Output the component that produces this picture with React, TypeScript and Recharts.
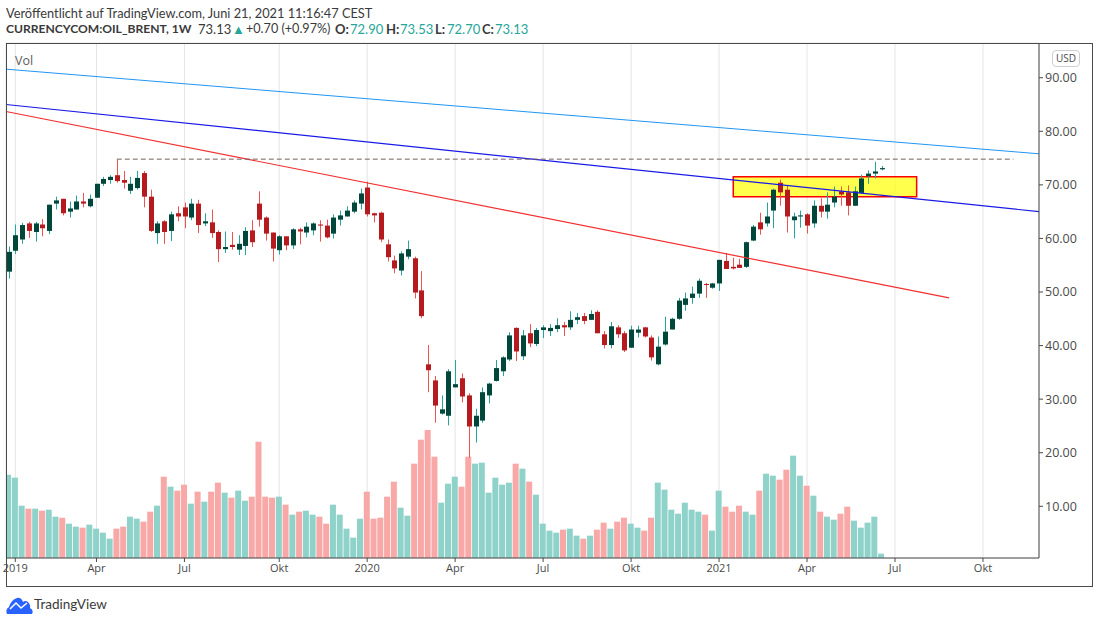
import {
  Bar,
  CartesianGrid,
  Cell,
  ComposedChart,
  ReferenceArea,
  ReferenceLine,
  XAxis,
  YAxis,
} from "recharts";

// weekly OHLC, first visible bar is the last week of 2018
const opens = [
  53.8, 57.7, 59.8, 62.8, 61.2, 62.6, 61.4, 66.5, 67.4, 65.0, 65.4, 66.9, 66.0, 67.6, 70.2, 70.9, 71.8, 70.9, 68.9, 69.4,
  72.2, 67.8, 61.0, 63.2, 61.4, 64.7, 65.8, 63.9, 66.5, 62.8, 63.0, 61.2, 58.0, 58.8, 57.9, 58.6, 61.5, 66.5, 63.9, 61.1,
  57.8, 60.4, 58.7, 61.7, 61.1, 61.5, 62.6, 62.4, 60.9, 63.5, 64.1, 65.0, 66.5, 69.5, 64.7, 64.8, 58.9, 55.9, 54.0, 56.6,
  56.3, 50.3, 36.5, 33.5, 27.3, 26.9, 32.2, 33.9, 30.7, 24.9, 26.0, 30.7, 33.4, 35.2, 37.4, 43.3, 38.0, 42.3, 40.3, 42.9,
  42.7, 43.1, 43.8, 43.4, 44.8, 45.5, 44.8, 46.3, 42.1, 40.1, 43.4, 42.3, 39.6, 42.4, 43.4, 41.5, 36.5, 40.2, 43.0, 45.0,
  47.6, 48.9, 49.7, 51.5, 50.8, 51.6, 55.8, 54.7, 55.1, 54.7, 59.6, 63.0, 62.8, 65.2, 70.4, 69.1, 63.4, 64.1, 64.5, 62.8,
  66.1, 65.0, 66.7, 68.8, 68.6, 66.1, 68.5, 71.6, 72.1, 72.9,
];
const highs = [
  58.5, 62.6, 62.9, 63.1, 63.1, 63.6, 66.3, 67.8, 67.4, 66.9, 68.0, 68.5, 68.2, 70.2, 71.5, 71.8, 74.7, 72.6, 71.5, 72.6,
  72.6, 69.1, 63.2, 63.4, 65.0, 66.0, 66.7, 67.4, 67.2, 64.7, 65.4, 61.5, 61.3, 61.2, 60.6, 62.1, 63.4, 68.8, 64.1, 61.1,
  60.6, 60.4, 61.9, 62.0, 63.0, 63.0, 63.4, 63.5, 64.5, 65.2, 66.0, 67.1, 69.3, 70.6, 64.8, 65.0, 59.8, 56.8, 57.6, 59.6,
  56.6, 53.9, 40.1, 34.3, 30.7, 35.6, 37.3, 34.8, 31.1, 28.2, 32.2, 33.1, 37.3, 38.0, 42.5, 43.4, 42.9, 44.0, 43.3, 43.8,
  44.0, 45.1, 44.4, 46.4, 46.1, 46.1, 46.6, 46.6, 42.7, 44.4, 43.8, 42.7, 43.7, 43.7, 43.5, 41.9, 41.7, 45.4, 45.2, 48.9,
  49.9, 51.0, 52.5, 51.7, 51.7, 56.0, 57.3, 56.4, 56.2, 59.4, 62.5, 64.8, 66.7, 69.3, 71.0, 69.9, 64.8, 65.2, 64.7, 67.1,
  67.5, 68.6, 69.7, 69.7, 69.9, 69.7, 71.9, 72.7, 74.3, 73.53,
];
const lows = [
  52.5, 57.1, 59.0, 60.1, 59.4, 60.4, 60.8, 65.4, 64.3, 63.9, 65.4, 65.8, 65.8, 67.6, 69.8, 70.2, 70.4, 69.3, 68.3, 69.1,
  65.8, 61.2, 59.0, 59.0, 59.5, 63.2, 61.9, 63.4, 61.0, 62.3, 60.1, 55.6, 57.3, 57.9, 56.9, 56.9, 58.4, 62.2, 59.6, 55.7,
  57.0, 57.8, 58.0, 58.9, 60.2, 60.6, 59.4, 60.0, 60.0, 62.4, 64.1, 64.7, 65.4, 64.1, 63.0, 59.3, 55.7, 53.5, 53.1, 56.1,
  48.8, 45.1, 31.3, 25.6, 27.1, 25.1, 32.2, 29.4, 19.1, 21.9, 25.6, 29.2, 33.3, 34.3, 37.1, 37.1, 37.3, 39.7, 39.9, 41.4,
  41.8, 42.5, 41.8, 42.9, 44.0, 44.0, 44.8, 42.3, 39.5, 39.5, 41.4, 38.8, 39.6, 41.5, 41.5, 37.2, 36.3, 40.0, 43.0, 44.8,
  46.5, 47.8, 48.9, 48.9, 50.6, 50.2, 54.3, 54.2, 54.5, 54.5, 59.5, 60.7, 62.2, 61.9, 66.1, 61.1, 60.0, 62.0, 60.9, 62.0,
  63.9, 63.7, 65.8, 66.1, 64.3, 66.1, 68.5, 70.2, 71.2, 72.7,
];
const closes = [
  57.5, 60.6, 62.5, 61.4, 62.8, 61.9, 66.3, 67.1, 64.7, 65.6, 66.9, 66.5, 67.4, 70.2, 71.1, 71.5, 70.7, 70.4, 70.2, 71.3,
  67.8, 61.4, 62.8, 61.2, 64.5, 64.1, 64.1, 66.5, 62.5, 63.2, 61.0, 58.0, 58.4, 58.4, 59.0, 61.4, 59.3, 63.5, 60.9, 58.1,
  60.4, 58.7, 61.7, 61.3, 62.2, 62.8, 62.4, 60.2, 63.9, 64.3, 65.2, 66.7, 68.4, 64.5, 64.3, 59.8, 56.5, 54.4, 57.2, 58.0,
  49.9, 45.5, 35.4, 28.8, 28.1, 35.2, 32.8, 30.5, 24.9, 26.9, 31.3, 32.9, 35.8, 37.8, 41.9, 38.9, 41.9, 40.4, 42.9, 43.4,
  43.3, 43.8, 43.4, 44.8, 45.3, 44.6, 45.9, 42.3, 40.1, 43.6, 42.1, 39.1, 43.0, 43.0, 41.7, 37.8, 39.8, 42.6, 45.0, 48.4,
  48.8, 49.7, 52.1, 51.4, 51.6, 56.0, 54.3, 54.4, 54.5, 59.3, 62.2, 61.7, 64.1, 69.1, 68.6, 64.1, 64.1, 64.3, 62.4, 66.1,
  65.0, 66.3, 67.8, 68.2, 66.1, 68.8, 71.2, 72.1, 72.5, 73.13,
];
const volumes = [
  250, 241, 157, 148, 148, 142, 145, 124, 121, 103, 94, 91, 100, 88, 76, 58, 88, 94, 124, 118,
  109, 139, 157, 244, 214, 202, 220, 163, 199, 169, 199, 226, 196, 181, 202, 172, 184, 349, 184, 181,
  184, 160, 130, 139, 142, 130, 124, 103, 160, 130, 88, 61, 118, 199, 118, 121, 184, 229, 151, 127,
  283, 355, 384, 304, 166, 223, 244, 214, 304, 283, 286, 196, 241, 220, 226, 283, 268, 229, 190, 103,
  82, 76, 85, 88, 67, 58, 67, 85, 106, 88, 109, 121, 103, 91, 82, 121, 226, 205, 145, 133,
  166, 145, 139, 130, 82, 202, 154, 139, 157, 139, 130, 202, 253, 247, 235, 265, 307, 247, 217, 187,
  139, 124, 115, 133, 154, 112, 91, 106, 124, 13,
];

const monthTicks = [1, 13, 26, 40, 53, 66, 79, 92, 105, 118, 131, 144];
const monthLabels = ["2019", "Apr", "Jul", "Okt", "2020", "Apr", "Jul", "Okt", "2021", "Apr", "Jul", "Okt"];
const priceTicks = [10, 20, 30, 40, 50, 60, 70, 80, 90];

const lightBlueLine = [{ x: -0.37, y: 91.6 }, { x: 152.28, y: 75.8 }];
const blueLine = [{ x: -0.37, y: 85.0 }, { x: 152.28, y: 65.0 }];
const redLine = [{ x: -0.37, y: 83.7 }, { x: 139, y: 48.9 }];
const resistanceLine = [{ x: 16, y: 74.8 }, { x: 148.5, y: 74.8 }];
const zone = { x1: 107.1, x2: 134.2, y1: 67.8, y2: 71.5 };

const X_DOMAIN = [-0.37, 152.28];
const UP = "#00473b";
const DOWN = "#b51a1f";
const UP_WICK = "#26a69a";
const DOWN_WICK = "#ef5350";
const AXIS = "#4a4a4a";
const FONT = "'Open Sans', sans-serif";
const HEAD_FONT = "Lato, sans-serif";

const rows = opens.map((open, i) => ({
  i,
  open,
  close: closes[i],
  range: [lows[i], highs[i]],
  volume: volumes[i],
}));

function Candle(props: any) {
  const { x, y, width, height, payload } = props;
  const [low, high] = payload.range;
  const perUnit = height / (high - low);
  const up = payload.close >= payload.open;
  const top = y + (high - Math.max(payload.open, payload.close)) * perUnit;
  const bodyHeight = Math.max(1, Math.abs(payload.close - payload.open) * perUnit);
  // snap to the pixel grid so wicks stay 1px wide
  const cx = Math.round(x + width / 2) + 0.5;
  return (
    <g>
      <line x1={cx} x2={cx} y1={y} y2={y + height} stroke={up ? UP_WICK : DOWN_WICK} strokeWidth={1} />
      <rect x={cx - width / 2} y={top} width={width} height={bodyHeight} fill={up ? UP : DOWN} />
    </g>
  );
}

function Logo() {
  return (
    <svg width={27} height={17} viewBox="0 0 27 17" style={{ position: "absolute", left: 6, top: 597 }}>
      <path
        d="M1 17 Q-1 12 3 10 Q5 3 11 1 Q15 0 17 5 Q19 3 22 5 Q25 8 24 11 Q28 13 26 17 Z"
        fill="#2962ff"
      />
      <path d="M4 12 L10 6 L15 11 L21 6" fill="none" stroke="#fff" strokeWidth={1.5} />
    </svg>
  );
}

// one piece of the ohlc header line
function Head({ left, color, bold, size, children }: any) {
  return (
    <span
      style={{
        position: "absolute",
        left,
        top: 21,
        fontFamily: HEAD_FONT,
        fontSize: size ?? 13,
        lineHeight: "16px",
        fontWeight: bold ? 700 : 400,
        color,
        whiteSpace: "nowrap",
      }}
    >
      {children}
    </span>
  );
}

export default function App() {
  const green = "#26a69a";
  return (
    <div style={{ position: "absolute", left: 0, top: 0, width: 1100, height: 623, background: "#fff", fontFamily: FONT, color: "#3a3a3a", overflow: "hidden" }}>
      <div style={{ position: "absolute", left: 6, top: 5, fontFamily: HEAD_FONT, fontSize: 12.8, lineHeight: "16px", whiteSpace: "nowrap" }}>
        Veröffentlicht auf TradingView.com, Juni 21, 2021 11:16:47 CEST
      </div>
      <Head left={6} bold size={12.1}>CURRENCYCOM:OIL_BRENT, 1W</Head>
      <Head left={198}>73.13</Head>
      <Head left={232} color={green}>▲</Head>
      <Head left={246} size={12.6}>+0.70 (+0.97%)</Head>
      <Head left={335} bold>O:</Head>
      <Head left={350} color={green}>72.90</Head>
      <Head left={386} bold>H:</Head>
      <Head left={400} color={green}>73.53</Head>
      <Head left={435} bold>L:</Head>
      <Head left={447} color={green}>72.70</Head>
      <Head left={482} bold>C:</Head>
      <Head left={495} color={green}>73.13</Head>

      <ComposedChart
        width={1100}
        height={623}
        data={rows}
        margin={{ top: 43, right: 8, bottom: 37, left: 6 }}
        style={{ position: "absolute", left: 0, top: 0 }}
      >
        <CartesianGrid stroke="#e4e4e4" strokeWidth={1} />
        <XAxis
          dataKey="i"
          type="number"
          domain={X_DOMAIN}
          allowDataOverflow
          ticks={monthTicks}
          interval={0}
          tickFormatter={(v: number) => monthLabels[monthTicks.indexOf(v)]}
          height={28}
          stroke={AXIS}
          tickSize={4}
          tick={{ fontSize: 11, fill: "#4a4a4a", fontFamily: FONT }}
        />
        {/* second x axis so volume and candles don't share a slot */}
        <XAxis xAxisId="vol" dataKey="i" type="number" domain={X_DOMAIN} allowDataOverflow hide />
        <YAxis
          yAxisId="price"
          orientation="right"
          domain={[0.35, 96.48]}
          allowDataOverflow
          ticks={priceTicks}
          interval={0}
          tickFormatter={(v: number) => v.toFixed(2)}
          width={53}
          stroke={AXIS}
          tickSize={4}
          tick={{ fontSize: 12.5, fill: "#4a4a4a", fontFamily: FONT }}
        />
        <YAxis yAxisId="volume" hide domain={[0, 1545]} allowDataOverflow />

        <Bar xAxisId="vol" yAxisId="volume" dataKey="volume" barSize={6} isAnimationActive={false}>
          {rows.map((row) => (
            <Cell key={row.i} fill={row.close >= row.open ? "#8fd2ca" : "#f8a8a6"} />
          ))}
        </Bar>

        <ReferenceArea
          yAxisId="price"
          x1={zone.x1}
          x2={zone.x2}
          y1={zone.y1}
          y2={zone.y2}
          fill="#ffff00"
          fillOpacity={0.7}
          stroke="#ff0000"
          strokeWidth={1.5}
        />
        <Bar yAxisId="price" dataKey="range" barSize={5} shape={Candle} isAnimationActive={false} />

        <ReferenceLine yAxisId="price" segment={lightBlueLine} stroke="#2196f3" strokeWidth={1} />
        <ReferenceLine yAxisId="price" segment={blueLine} stroke="#1a1ae6" strokeWidth={1.2} />
        <ReferenceLine yAxisId="price" segment={redLine} stroke="#f23030" strokeWidth={1.2} />
        <ReferenceLine yAxisId="price" segment={resistanceLine} stroke="#7a5f5f" strokeWidth={1} strokeDasharray="5 3" />
      </ComposedChart>

      {/* chart frame, separator lines come from the axes */}
      <div style={{ position: "absolute", left: 6, top: 43, width: 1085, height: 542, border: `1px solid ${AXIS}`, pointerEvents: "none" }} />

      <div style={{ position: "absolute", left: 15, top: 52, fontSize: 12.5, color: "#5d5d5d" }}>Vol</div>
      <div style={{ position: "absolute", left: 1052, top: 50, width: 26, height: 15, border: "1px solid #cfcfcf", borderRadius: 4, fontSize: 10, lineHeight: "15px", textAlign: "center", color: "#4a4a4a" }}>
        USD
      </div>

      <Logo />
      <div style={{ position: "absolute", left: 34, top: 595, fontFamily: HEAD_FONT, fontSize: 13.5, lineHeight: "18px", color: "#3a3a3a" }}>TradingView</div>
    </div>
  );
}
